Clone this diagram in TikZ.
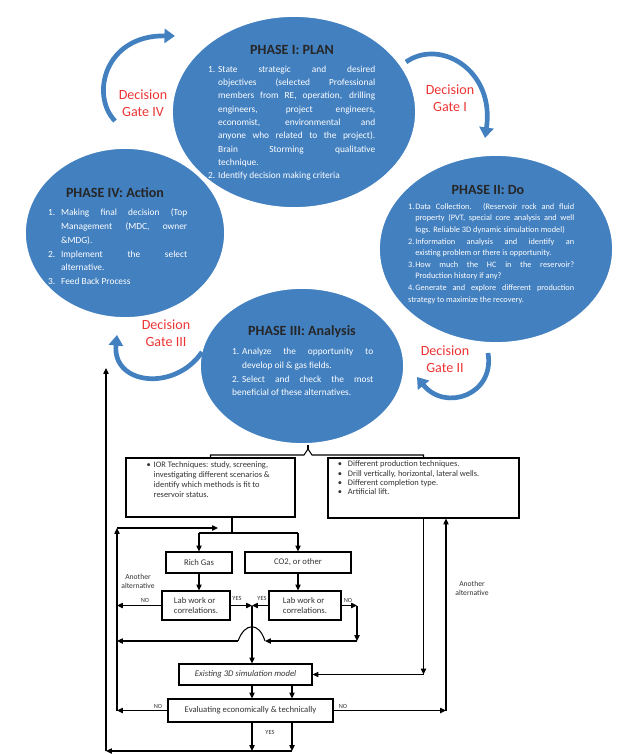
\documentclass[tikz,border=0pt]{standalone}
\usepackage{fontspec}
\setmainfont{Carlito}
\usepackage{tikz}
\usetikzlibrary{shapes.geometric,arrows.meta,calc}
\definecolor{phaseblue}{RGB}{66,128,192}
\definecolor{gatered}{RGB}{236,52,52}
\newlength\phhang
\newlength\bulhang
\newcommand{\phitem}[2]{\par\hangindent=\phhang\hangafter=1\noindent\hbox to\phhang{#1\hfil}#2}
\newcommand{\bul}[1]{\par\hangindent=\bulhang\hangafter=1\noindent\hbox to\bulhang{\textbullet\hfil}#1}
\hyphenpenalty=10000
\tolerance=9999
\hbadness=10000
\tikzset{
  phase/.style = {ellipse, fill=phaseblue, draw=white, line width=1.5pt, inner sep=0pt},
  phasetitle/.style = {font=\fontsize{12}{14}\selectfont\bfseries, text=black!85, inner sep=0pt},
  phasetext/.style = {text=white, align=justify, inner sep=0pt, anchor=north west},
  gate/.style = {draw=phaseblue, line width=4pt, -{Triangle[length=9pt,width=12pt]}},
  gatelabel/.style = {text=gatered, align=center, font=\fontsize{12}{14.5}\selectfont},
  box/.style = {draw, line width=0.9pt, inner sep=0pt, font=\fontsize{7.4}{8.6}\selectfont, text=black!80},
  line/.style = {line width=0.9pt},
  flow/.style = {line width=0.9pt, -{Triangle[length=5pt,width=4.5pt]}},
  lbl/.style = {font=\fontsize{6.5}{7.6}\selectfont, inner sep=0pt, align=center, text=black!80}
}

\begin{document}
\begin{tikzpicture}[x=0.03cm,y=-0.03cm]
\useasboundingbox (0,0) rectangle (618,754);

% the four phases
\node[phase, minimum width=6cm, minimum height=5.1cm] (p4) at (125,233) {};
\node[phase, minimum width=7.02cm, minimum height=5.64cm] (p2) at (496,249) {};
\node[phase, minimum width=6.12cm, minimum height=4.68cm] (p3) at (302,366) {};
\node[phase, minimum width=7.32cm, minimum height=5.76cm] (p1) at (294,112) {};

\node[phasetitle] (h1) at (292,50) {PHASE I: PLAN};
\node[phasetext, text width=5.01cm, font=\fontsize{8}{11.4}\selectfont] (t1) at (208,58.5)
  {\setlength\phhang{8.5pt}%
   \phitem{1.}{State strategic and desired\linebreak objectives (selected Professional\linebreak members from RE, operation, drilling\linebreak engineers, project engineers,\linebreak economist, environmental and\linebreak anyone who related to the project).\linebreak Brain Storming qualitative\linebreak technique.}%
   \phitem{2.}{Identify decision making criteria}};

\node[phasetitle] (h2) at (488,190) {PHASE II: Do};
\node[phasetext, text width=4.98cm, font=\fontsize{7.1}{9.9}\selectfont] (t2) at (408,197.5)
  {\setlength\phhang{6pt}%
   \phitem{1.}{Data Collection. (Reservoir rock and fluid\linebreak property (PVT, special core analysis and well\linebreak logs. Reliable 3D dynamic simulation model)}%
   \phitem{2.}{Information analysis and identify an\linebreak existing problem or there is opportunity.}%
   \phitem{3.}{How much the HC in the reservoir?\linebreak Production history if any?}%
   \phitem{4.}{Generate and explore different production\linebreak strategy to maximize the recovery.}};

\node[phasetitle] (h3) at (302,332) {PHASE III: Analysis};
\node[phasetext, text width=4.23cm, font=\fontsize{8}{11.6}\selectfont] (t3) at (232,341)
  {\setlength\phhang{8.5pt}%
   \phitem{1.}{Analyze the opportunity to\linebreak develop oil \& gas fields.}%
   \phitem{2.}{Select and check the most\linebreak beneficial of these alternatives.}};

\node[phasetitle] (h4) at (115,193) {PHASE IV: Action};
\node[phasetext, text width=4.17cm, font=\fontsize{8}{11.8}\selectfont] (t4) at (48,201.5)
  {\setlength\phhang{11pt}%
   \phitem{1.}{Making final decision (Top\linebreak Management (MDC, owner\linebreak \&MDG).}%
   \phitem{2.}{Implement the select\linebreak alternative.}%
   \phitem{3.}{Feed Back Process}};

% decision gates
\coordinate (g4a) at (115,121);
\coordinate (g4b) at (175,36);
\coordinate (g1a) at (406,62);
\coordinate (g1b) at (485,138);
\coordinate (g2a) at (488,353);
\coordinate (g2b) at (417,377);
\coordinate (g3a) at (202,352);
\coordinate (g3b) at (117,335);
\draw[gate] (g4a) .. controls (90,95) and (105,35) .. (g4b);
\draw[gate] (g1a) .. controls (440,38) and (495,70) .. (g1b);
\draw[gate] (g2a) .. controls (495,395) and (445,412) .. (g2b);
\draw[gate] (g3a) .. controls (175,392) and (112,385) .. (g3b);

\node[gatelabel] (d4) at (143,103) {Decision\\Gate IV};
\node[gatelabel] (d1) at (450,98) {Decision\\Gate I};
\node[gatelabel] (d2) at (445,359) {Decision\\Gate II};
\node[gatelabel] (d3) at (166,333) {Decision\\Gate III};

% flow chart
\node[box, minimum width=5.07cm, minimum height=1.77cm, inner ysep=0.1cm] (ior) at (210.5,487.5)
  {\parbox[c][1.57cm][t]{5.07cm}{\setlength\bulhang{6pt}\leftskip=0.62cm \fontsize{7.2}{8.5}\selectfont
   \bul{IOR Techniques: study, screening,\\ investigating different scenarios \&\\ identify which methods is fit to\\ reservoir status.}}};
\node[box, minimum width=5.73cm, minimum height=1.8cm, inner ysep=0.08cm] (prod) at (423.5,488)
  {\parbox[c][1.64cm][t]{5.73cm}{\setlength\bulhang{8.5pt}\leftskip=0.3cm \fontsize{7.2}{8.1}\selectfont
   \bul{Different production techniques.}\bul{Drill vertically, horizontal, lateral wells.}%
   \bul{Different completion type.}\bul{Artificial lift.}}};
\node[box, minimum width=1.98cm, minimum height=0.63cm] (rich) at (199,562.5) {Rich Gas};
\node[box, minimum width=3.18cm, minimum height=0.63cm] (cotwo) at (298,562.5) {CO2, or other};
\node[box, minimum width=2.04cm, minimum height=0.87cm, align=left] (labA) at (196,605.5) {Lab work or\\correlations.};
\node[box, minimum width=2.16cm, minimum height=0.87cm, align=left] (labB) at (305,605.5) {Lab work or\\correlations.};
\node[box, minimum width=3.99cm, minimum height=0.63cm, font=\fontsize{7.4}{8.6}\selectfont\itshape] (sim) at (245.5,674.5) {Existing 3D simulation model};
\node[box, minimum width=4.95cm, minimum height=0.69cm] (eval) at (250.5,710.5) {Evaluating economically \& technically};

\coordinate (tip) at (308,449);
\coordinate (bl) at (304,455);
\coordinate (br) at (312,455);
\coordinate (fork) at (232,533);
\coordinate (mid) at (252,605.5);
\coordinate (mid2) at (292,690);
\coordinate (inner) at (117,528);
\coordinate (inend) at (218,528);
\coordinate (outer) at (106,751);
\coordinate (outtop) at (106,368);
\coordinate (nob) at (357,605.5);
\coordinate (hop) at (357,641);
\coordinate (hopR) at (265,641);
\coordinate (hopL) at (238,641);
\coordinate (altr) at (446,710.5);

\draw[line] (p3.south -| tip) -- (tip);
\draw[line] (ior.north) |- (bl) -- (tip) -- (br) -| (prod.north);
\draw[line] (ior.south -| fork) -- (fork);
\draw[line] (fork -| rich) -- (fork -| cotwo);
\draw[flow] (fork -| rich) -- (rich.north);
\draw[flow] (fork -| cotwo) -- (cotwo.north);
\draw[flow] (rich.south) -- (rich.south |- labA.north);
\draw[flow] (cotwo.south) -- (cotwo.south |- labB.north);
\draw[flow] (labA.east) -- (mid);
\draw[flow] (labB.west) -- (mid);
\draw[flow] (mid) -- (mid |- sim.north);
\draw[flow] (labA.west) -- (labA.west -| inner);
\draw[flow] (labB.east) -- (nob);
\draw[flow] (nob) -- (hop);
\draw[flow] (hop) -- (hopR);
\draw[line] (hopR) .. controls (259,622) and (245,622) .. (hopL);
\draw[flow] (hopL) -- (hopL -| inner);
\draw[flow] (inner |- eval.west) -- (inner);
\draw[flow] (inner) -- (inend);
\draw[flow] (eval.west) -- (eval.west -| inner);
\draw[flow] (prod.south) -- (prod.south |- sim.east);
\draw[flow] (prod.south |- sim.east) -- (sim.east);
\draw[flow] (eval.east) -- (altr);
\draw[flow] (altr) -- (altr |- prod.south);
\draw[flow] (mid |- sim.south) -- (mid |- eval.north);
\draw[flow] (mid2 |- sim.south) -- (mid2 |- eval.north);
\draw[flow] (mid |- eval.south) -- (mid |- outer);
\draw[flow] (mid2 |- eval.south) -- (mid2 |- outer);
\draw[flow] (mid2 |- outer) -- (outer);
\draw[flow] (outer) -- (outtop);

\node[lbl] (altl) at (138,581) {Another\\alternative};
\node[lbl] (altr2) at (472,588) {Another\\alternative};
\foreach \n/\x/\y/\t in {no1/145/600/NO, yes1/237/598/YES, yes2/262/598/YES, no2/348/600/NO,
                         no3/158/706/NO, no4/343/706/NO, yes3/270/732/YES}
  \node[lbl, font=\fontsize{5.4}{6}\selectfont] (\n) at (\x,\y) {\t};

\end{tikzpicture}
\end{document}
